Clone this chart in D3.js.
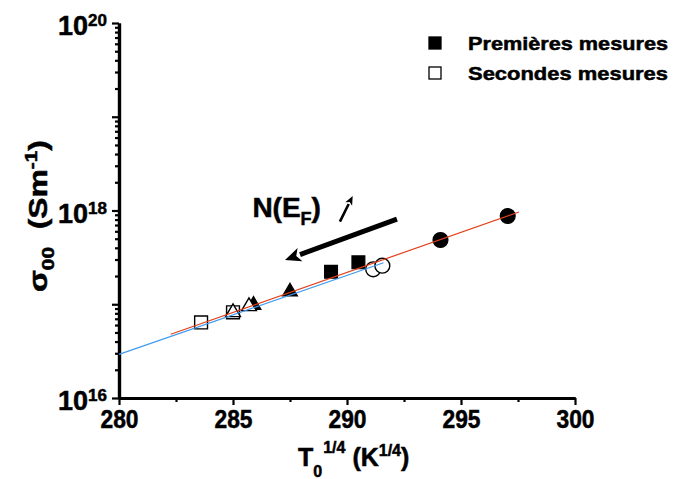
<!DOCTYPE html>
<html><head><meta charset="utf-8">
<script src="https://cdn.jsdelivr.net/npm/d3@7"></script>
<style>body{margin:0;background:#fff}svg{display:block}text{font-family:"Liberation Sans",Arial,sans-serif;font-weight:bold;fill:#000;stroke:#000;stroke-width:0.5px;white-space:pre}</style>
</head><body>
<svg id="c" width="676" height="479"></svg>
<script>
// ---- data ----
const premX = [285.9, 287.5, 289.3, 290.5, 294.1, 297.05];
const premY = [9.8e16, 1.36e17, 2.22e17, 2.80e17, 4.84e17, 8.73e17];
const premShape = ["triangle","triangle","square","square","circle","circle"];
const secX = [283.6, 285.0, 285.0, 285.7, 291.15, 291.55];
const secY = [6.4e16, 8.2e16, 8.2e16, 9.5e16, 2.36e17, 2.58e17];
const secShape = ["square","square","triangle","triangle","circle","circle"];
const redFitX = [282.27, 297.54];
const redFitY = [4.78e16, 9.64e17];
const blueFitX = [280, 291.6];
const blueFitY = [2.92e16, 2.77e17];
const xTicks = [280, 285, 290, 295, 300];
const xMinor = [282.5, 287.5, 292.5, 297.5];
const yLabelExp = [16, 18, 20];
const yMajorExp = [16, 17, 18, 19, 20];
const legendLabels = ["Premières mesures", "Secondes mesures"];
const bigArrowX = [292.19, 287.28], bigArrowY = [8.1e17, 2.96e17];
const smallArrowX = [289.69, 290.25], smallArrowY = [7.6e17, 1.43e18];
const annotX = 285.85, annotY = 8.45e17;

const svg = d3.select("#c");
const x = d3.scaleLinear().domain([280, 300]).range([119, 575]);
const y = d3.scaleLog().domain([1e16, 1e20]).range([398, 23]);

// minor y ticks
const yMinor = [];
for (let e = 16; e < 20; e++) for (let k = 2; k <= 9; k++) yMinor.push(k * Math.pow(10, e));

const gx = svg.append("g").attr("transform", "translate(0,398)");
gx.call(d3.axisBottom(x).tickValues(xMinor).tickSize(4).tickSizeOuter(0).tickFormat(""));
gx.append("g").call(d3.axisBottom(x).tickValues(xTicks).tickSize(7).tickSizeOuter(0).tickFormat(d3.format("d")))
  .selectAll("text").attr("font-size", 25).attr("font-weight", "bold")
  .attr("font-family", "Liberation Sans, Arial, sans-serif").attr("y", 12).attr("dy", "0.71em")
  .attr("textLength", 38).attr("lengthAdjust", "spacingAndGlyphs");
const gy = svg.append("g").attr("transform", "translate(119,0)");
gy.call(d3.axisLeft(y).tickValues(yMinor).tickSize(4).tickSizeOuter(0).tickFormat(""));
gy.append("g").call(d3.axisLeft(y).tickValues(yMajorExp.map(e => Math.pow(10, e))).tickSize(7).tickSizeOuter(0).tickFormat(""));
svg.selectAll(".domain").attr("stroke-width", 3.2).attr("stroke", "#000");
svg.selectAll(".tick line").attr("stroke-width", 2.2).attr("stroke", "#000");

// y tick labels 10^n
yLabelExp.forEach(e => {
  const t = svg.append("text").attr("x", 107).attr("y", y(Math.pow(10, e)) + 12)
    .attr("text-anchor", "end").attr("font-size", 27);
  t.append("tspan").text("10");
  t.append("tspan").attr("font-size", 17).attr("dy", -9).text(String(e));
});

// markers
function sym(shape) {
  if (shape === "square") return d3.symbol(d3.symbolSquare, 165)();
  if (shape === "circle") return d3.symbol(d3.symbolCircle, 175)();
  return d3.symbol(d3.symbolTriangle, 95)();
}
const pts = svg.append("g");
premX.forEach((v, i) => {
  pts.append("path").attr("d", sym(premShape[i]))
    .attr("transform", `translate(${x(v)},${y(premY[i])})`)
    .attr("fill", "#000").attr("stroke", "#000").attr("stroke-width", 1.2);
});
secX.forEach((v, i) => {
  pts.append("path").attr("d", sym(secShape[i]))
    .attr("transform", `translate(${x(v)},${y(secY[i])})`)
    .attr("fill", "#fff").attr("stroke", "#000").attr("stroke-width", 1.4);
});

// fit lines
const line = d3.line().x(d => x(d[0])).y(d => y(d[1]));
svg.append("path").attr("d", line(redFitX.map((v, i) => [v, redFitY[i]])))
  .attr("stroke", "#e3401b").attr("stroke-width", 1.2).attr("fill", "none");
svg.append("path").attr("d", line(blueFitX.map((v, i) => [v, blueFitY[i]])))
  .attr("stroke", "#3d9bf0").attr("stroke-width", 1.2).attr("fill", "none");

// arrows
function arrow(x0, y0, x1, y1, w, hl, hw) {
  const ang = Math.atan2(y1 - y0, x1 - x0);
  const bx = x1 - hl * Math.cos(ang), by = y1 - hl * Math.sin(ang);
  svg.append("line").attr("x1", x0).attr("y1", y0).attr("x2", bx).attr("y2", by)
    .attr("stroke", "#000").attr("stroke-width", w);
  const px = -Math.sin(ang), py = Math.cos(ang);
  svg.append("path").attr("d", `M${x1},${y1}L${bx + px * hw},${by + py * hw}L${bx + (x1-bx)*0.25},${by + (y1-by)*0.25}L${bx - px * hw},${by - py * hw}Z`)
    .attr("fill", "#000");
}
arrow(x(bigArrowX[0]), y(bigArrowY[0]), x(bigArrowX[1]), y(bigArrowY[1]), 5, 16, 7);
arrow(x(smallArrowX[0]), y(smallArrowY[0]), x(smallArrowX[1]), y(smallArrowY[1]), 2.6, 9, 3.8);

const ann = svg.append("text").attr("x", x(annotX)).attr("y", y(annotY)).attr("font-size", 28);
ann.append("tspan").text("N(E");
ann.append("tspan").attr("font-size", 18).attr("dy", 8).text("F");
ann.append("tspan").attr("dy", -8).text(")");

// legend
legendLabels.forEach((lab, i) => {
  const ly = 43 + i * 30;
  svg.append("rect").attr("x", 429).attr("y", ly - 6).attr("width", 12).attr("height", 12)
    .attr("fill", i === 0 ? "#000" : "#fff").attr("stroke", "#000").attr("stroke-width", 1.3);
  svg.append("text").attr("x", 468).attr("y", ly + 6.5).attr("font-size", 19)
    .attr("textLength", 200).attr("lengthAdjust", "spacingAndGlyphs").text(lab);
});

// x title
const xt = svg.append("text").attr("x", 298).attr("y", 466).attr("font-size", 25);
xt.append("tspan").text("T");
xt.append("tspan").attr("font-size", 16).attr("dy", 11).attr("dx", 0).text("0");
xt.append("tspan").attr("font-size", 16).attr("dy", -24).attr("dx", 1).text("1/4");
xt.append("tspan").attr("dy", 13).text(" (K");
xt.append("tspan").attr("font-size", 16).attr("dy", -10).text("1/4");
xt.append("tspan").attr("dy", 10).text(")");

// y title
const yt = svg.append("text").attr("transform", "translate(47,292) rotate(-90)").attr("font-size", 26)
  .attr("textLength", 152).attr("lengthAdjust", "spacingAndGlyphs");
yt.append("tspan").text("σ");
yt.append("tspan").attr("font-size", 17).attr("dy", 7).text("00");
yt.append("tspan").attr("dy", -7).text("  (Sm");
yt.append("tspan").attr("font-size", 17).attr("dy", -10).text("-1");
yt.append("tspan").attr("dy", 10).text(")");
</script>
</body></html>
